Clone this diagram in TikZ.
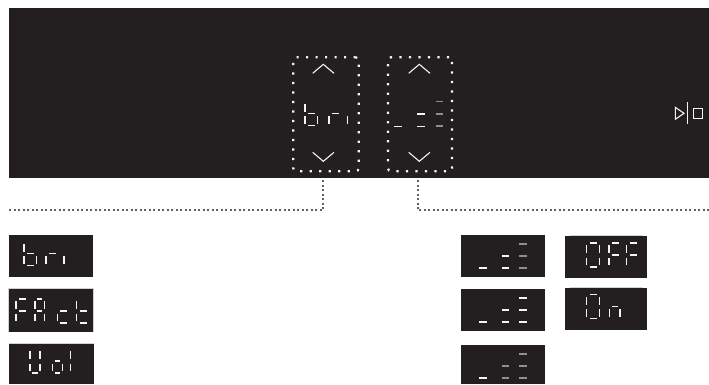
\documentclass[tikz,border=0pt]{standalone}
\usetikzlibrary{positioning, backgrounds}
\definecolor{dispblack}{HTML}{231F20}
\definecolor{dispwhite}{HTML}{F4F4F4}
\definecolor{dispgray}{HTML}{8E8E8C}
\definecolor{edgegray}{HTML}{D2D2D2}
\definecolor{leadgray}{HTML}{606062}
\tikzset{
  panel/.style={fill=dispblack, anchor=north west, inner sep=0pt, outer sep=0pt},
  seg/.style={dispwhite, line width=1.5pt},
  segdim/.style={dispgray, line width=1.7pt},
  thinseg/.style={dispwhite, line width=1.1pt},
  dotbox/.style={draw=dispwhite, line width=2.2pt, dash pattern=on 2.2pt off 7.3pt,
    rounded corners=3pt, anchor=north west, inner sep=0pt, outer sep=0pt},
  leader/.style={leadgray, line width=2pt, dash pattern=on 2pt off 2.5pt},
  edge line/.style={edgegray, line width=0.8pt},
  pics/levels/.style n args={2}{code={
    \draw[seg] (0,0) -- (7.4,0);
    \draw[#1] (22.4,0) -- (29.8,0);
    \draw[#1] (22.4,-12) -- (29.8,-12);
    \draw[#2] (40,0) -- (47.4,0);
    \draw[#2] (40,-12) -- (47.4,-12);
    \draw[#2] (40,-24) -- (47.4,-24);
  }}
}
% segments: x, y of the middle bar, width
\newcommand{\sega}[3]{\draw[seg] ({#1+0.23*#3},#2-12) -- ({#1+0.78*#3},#2-12);}
\newcommand{\segg}[3]{\draw[seg] ({#1+0.23*#3},#2) -- ({#1+0.78*#3},#2);}
\newcommand{\segd}[3]{\draw[seg] ({#1+0.23*#3},#2+12) -- ({#1+0.78*#3},#2+12);}
\newcommand{\segf}[3]{\draw[seg] (#1,#2-9.6) -- (#1,#2-2.2);}
\newcommand{\sege}[3]{\draw[seg] (#1,#2+2.6) -- (#1,#2+10);}
\newcommand{\segb}[3]{\draw[seg] (#1+#3,#2-9.6) -- (#1+#3,#2-2.2);}
\newcommand{\segc}[3]{\draw[seg] (#1+#3,#2+2.6) -- (#1+#3,#2+10);}
\newcommand{\digit}[4]{\foreach \s in {#4}{\csname seg\s\endcsname{#1}{#2}{#3}}}
\begin{document}
\begin{tikzpicture}[x=1pt, y=-1pt]
  \useasboundingbox (0,0) rectangle (709,384);
  % main display
  \node[panel, minimum width=700pt, minimum height=170pt] (mainPanel) at (9,8) {};
  \node[dotbox, minimum width=65.4pt, minimum height=114pt] (briBox) at (293.3,57.3) {};
  \node[dotbox, minimum width=64pt, minimum height=114pt] (levelBox) at (388,57.3) {};
  \coordinate (briEnd) at (9,210.3);
  \coordinate (levelEnd) at (709,210.3);
  \begin{scope}[on background layer]
    \draw[leader] ([xshift=-3pt]briBox.south) |- (briEnd);
    \draw[leader] ([xshift=-2.3pt]levelBox.south) |- (levelEnd);
  \end{scope}
  \draw[thinseg] (312.7,73.3) -- (323.3,64.3) -- (334,73.3);
  \draw[thinseg] (312.7,152.3) -- (323.3,161.3) -- (334,152.3);
  \draw[thinseg] (408.7,73.3) -- (419.3,64.3) -- (430,73.3);
  \draw[thinseg] (408.7,152.3) -- (419.3,161.3) -- (430,152.3);
  \digit{305}{113.7}{12.7}{f,e,g,c,d}
  \digit{329}{113.7}{12.7}{e,g}
  \digit{347.7}{113.7}{12.7}{e}
  \pic[scale=1.03] at (394.3,126.3) {levels={seg}{segdim}};
  \draw[thinseg] (675.3,107.3) -- (684,113.3) -- (675.3,119.3) -- cycle;
  \draw[thinseg] (687.7,102) -- (687.7,124.3);
  \draw[thinseg] (693.3,108.3) rectangle (702.3,118.3);
  % menu readouts
  \node[panel, minimum width=84pt, minimum height=41.7pt] (briPanel) at (9,235) {};
  \node[panel, minimum width=85pt, minimum height=43.7pt] (factPanel) at (8.5,288.3) {};
  \node[panel, minimum width=85pt, minimum height=40.7pt] (volPanel) at (9,343.3) {};
  \draw[edge line] (factPanel.south west) -- (factPanel.north west) -- (factPanel.north east) -- (factPanel.south east);
  \draw[edge line] (volPanel.north west) -- (volPanel.north east);
  \digit{24}{253.7}{12.7}{f,e,g,c,d}
  \digit{46}{253.7}{12.7}{e,g}
  \digit{64}{253.7}{12.7}{e}
  \digit{16}{311}{12.7}{a,f,g,e}
  \digit{35}{311}{9.3}{a,b,c,e,f,g}
  \digit{57.3}{311}{12.7}{g,e,d}
  \digit{76.7}{311}{12.7}{f,e,g,d}
  \digit{30}{361}{10}{f,b,e,c,d}
  \digit{52.7}{361}{9.6}{g,e,c,d}
  \digit{70.7}{361}{10}{f,e}
  % level readouts
  \node[panel, minimum width=84pt, minimum height=41.7pt] (levelPanelA) at (461,235) {};
  \node[panel, minimum width=84pt, minimum height=41.7pt] (levelPanelB) at (461,289) {};
  \node[panel, minimum width=84pt, minimum height=39pt] (levelPanelC) at (461,345) {};
  \pic at (479.3,268) {levels={seg}{segdim}};
  \pic at (479.3,322) {levels={seg}{seg}};
  \pic at (479.3,378) {levels={segdim}{segdim}};
  % on and off
  \node[panel, minimum width=81.7pt, minimum height=41.7pt] (offPanel) at (565,236) {};
  \node[panel, minimum width=81.7pt, minimum height=41.7pt] (onPanel) at (565,288) {};
  \draw[edge line] ([xshift=5pt,yshift=0.8pt]offPanel.north west) -- ([xshift=-4pt,yshift=0.8pt]offPanel.north east);
  \draw[edge line] ([xshift=5pt,yshift=0.8pt]onPanel.north west) -- ([xshift=-4pt,yshift=0.8pt]onPanel.north east);
  \digit{586.7}{255}{12.7}{a,b,c,d,e,f}
  \digit{609}{255}{12.7}{a,f,g,e}
  \digit{626.7}{255}{12.7}{a,f,g,e}
  \digit{586.7}{306.7}{12.7}{a,b,c,d,e,f}
  \digit{609.3}{306.7}{10.7}{g,e,c}
\end{tikzpicture}
\end{document}
